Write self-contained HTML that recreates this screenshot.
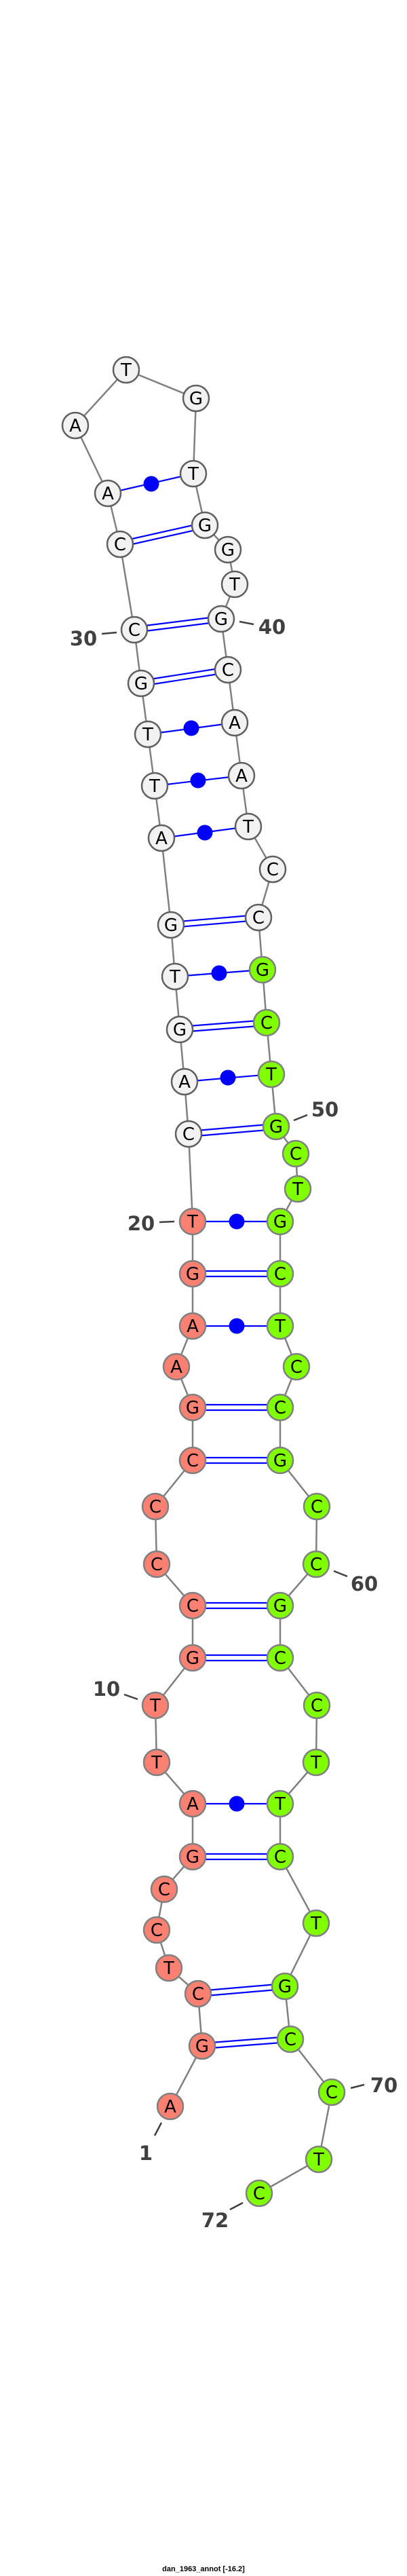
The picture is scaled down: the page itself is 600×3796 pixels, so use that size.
<!DOCTYPE html>
<html><head><meta charset="utf-8"><style>html,body{margin:0;padding:0;background:#fff}svg{display:block}</style></head><body>
<svg width="600" height="3796" viewBox="0 0 600 3796" xmlns="http://www.w3.org/2000/svg">
<polyline fill="none" stroke="#808080" stroke-width="2.5" points="251,3104 298,3015 292,2938 249,2900 231,2844 242,2784 284,2736 284,2658 231,2597 229,2513 284,2443 284,2366 231,2305 229,2220 284,2152 284,2074 260,2014 284,1954 284,1877 284,1800 278,1671 272,1594 265,1517 258,1439 252,1363 238,1235 228,1158 218,1082 208,1007 198,928 177,802 159,727 111,627 186,545 289,587 285,698 302,774 336,810 346,861 326,912 336,987 346,1065 356,1143 366,1218 402,1281 381,1352 387,1429 393,1507 400,1583 407,1660 436,1700 439,1752 413,1800 413,1877 413,1954 437,2014 413,2074 413,2152 467,2220 466,2305 413,2366 413,2443 467,2513 466,2597 413,2658 413,2736 466,2834 420,2927 428,3005 489,3083 470,3182 382,3232"/>
<g stroke="#0000ff" stroke-width="2.2">
<line x1="177" y1="798" x2="302" y2="770"/><line x1="177" y1="806" x2="302" y2="778"/>
<line x1="198" y1="924" x2="326" y2="908"/><line x1="198" y1="932" x2="326" y2="916"/>
<line x1="208" y1="1003" x2="336" y2="983"/><line x1="208" y1="1011" x2="336" y2="991"/>
<line x1="252" y1="1359" x2="381" y2="1348"/><line x1="252" y1="1367" x2="381" y2="1356"/>
<line x1="265" y1="1513" x2="393" y2="1503"/><line x1="265" y1="1521" x2="393" y2="1511"/>
<line x1="278" y1="1667" x2="407" y2="1656"/><line x1="278" y1="1675" x2="407" y2="1664"/>
<line x1="284" y1="1873" x2="413" y2="1873"/><line x1="284" y1="1881" x2="413" y2="1881"/>
<line x1="284" y1="2070" x2="413" y2="2070"/><line x1="284" y1="2078" x2="413" y2="2078"/>
<line x1="284" y1="2148" x2="413" y2="2148"/><line x1="284" y1="2156" x2="413" y2="2156"/>
<line x1="284" y1="2362" x2="413" y2="2362"/><line x1="284" y1="2370" x2="413" y2="2370"/>
<line x1="284" y1="2439" x2="413" y2="2439"/><line x1="284" y1="2447" x2="413" y2="2447"/>
<line x1="284" y1="2732" x2="413" y2="2732"/><line x1="284" y1="2740" x2="413" y2="2740"/>
<line x1="292" y1="2934" x2="420" y2="2923"/><line x1="292" y1="2942" x2="420" y2="2931"/>
<line x1="298" y1="3011" x2="428" y2="3001"/><line x1="298" y1="3019" x2="428" y2="3009"/>
<line x1="159" y1="727" x2="285" y2="698"/>
<line x1="218" y1="1082" x2="346" y2="1065"/>
<line x1="228" y1="1158" x2="356" y2="1143"/>
<line x1="238" y1="1235" x2="366" y2="1218"/>
<line x1="258" y1="1439" x2="387" y2="1429"/>
<line x1="272" y1="1594" x2="400" y2="1583"/>
<line x1="284" y1="1800" x2="413" y2="1800"/>
<line x1="284" y1="1954" x2="413" y2="1954"/>
<line x1="284" y1="2658" x2="413" y2="2658"/>
</g>
<g fill="#0000ff">
<circle cx="223" cy="713" r="11.5"/><circle cx="282" cy="1073" r="11.5"/><circle cx="292" cy="1150" r="11.5"/><circle cx="302" cy="1227" r="11.5"/><circle cx="323" cy="1434" r="11.5"/><circle cx="336" cy="1588" r="11.5"/><circle cx="349" cy="1800" r="11.5"/><circle cx="349" cy="1954" r="11.5"/><circle cx="349" cy="2658" r="11.5"/>
</g>
<g stroke-width="2.5">
<g fill="#fa8072" stroke="#808080">
<circle cx="251" cy="3104" r="19"/><circle cx="298" cy="3015" r="19"/><circle cx="292" cy="2938" r="19"/><circle cx="249" cy="2900" r="19"/><circle cx="231" cy="2844" r="19"/><circle cx="242" cy="2784" r="19"/><circle cx="284" cy="2736" r="19"/><circle cx="284" cy="2658" r="19"/><circle cx="231" cy="2597" r="19"/><circle cx="229" cy="2513" r="19"/><circle cx="284" cy="2443" r="19"/><circle cx="284" cy="2366" r="19"/><circle cx="231" cy="2305" r="19"/><circle cx="229" cy="2220" r="19"/><circle cx="284" cy="2152" r="19"/><circle cx="284" cy="2074" r="19"/><circle cx="260" cy="2014" r="19"/><circle cx="284" cy="1954" r="19"/><circle cx="284" cy="1877" r="19"/><circle cx="284" cy="1800" r="19"/>
</g>
<g fill="#f2f2f2" stroke="#606060">
<circle cx="278" cy="1671" r="19"/><circle cx="272" cy="1594" r="19"/><circle cx="265" cy="1517" r="19"/><circle cx="258" cy="1439" r="19"/><circle cx="252" cy="1363" r="19"/><circle cx="238" cy="1235" r="19"/><circle cx="228" cy="1158" r="19"/><circle cx="218" cy="1082" r="19"/><circle cx="208" cy="1007" r="19"/><circle cx="198" cy="928" r="19"/><circle cx="177" cy="802" r="19"/><circle cx="159" cy="727" r="19"/><circle cx="111" cy="627" r="19"/><circle cx="186" cy="545" r="19"/><circle cx="289" cy="587" r="19"/><circle cx="285" cy="698" r="19"/><circle cx="302" cy="774" r="19"/><circle cx="336" cy="810" r="19"/><circle cx="346" cy="861" r="19"/><circle cx="326" cy="912" r="19"/><circle cx="336" cy="987" r="19"/><circle cx="346" cy="1065" r="19"/><circle cx="356" cy="1143" r="19"/><circle cx="366" cy="1218" r="19"/><circle cx="402" cy="1281" r="19"/><circle cx="381" cy="1352" r="19"/>
</g>
<g fill="#7fff00" stroke="#808080">
<circle cx="387" cy="1429" r="19"/><circle cx="393" cy="1507" r="19"/><circle cx="400" cy="1583" r="19"/><circle cx="407" cy="1660" r="19"/><circle cx="436" cy="1700" r="19"/><circle cx="439" cy="1752" r="19"/><circle cx="413" cy="1800" r="19"/><circle cx="413" cy="1877" r="19"/><circle cx="413" cy="1954" r="19"/><circle cx="437" cy="2014" r="19"/><circle cx="413" cy="2074" r="19"/><circle cx="413" cy="2152" r="19"/><circle cx="467" cy="2220" r="19"/><circle cx="466" cy="2305" r="19"/><circle cx="413" cy="2366" r="19"/><circle cx="413" cy="2443" r="19"/><circle cx="467" cy="2513" r="19"/><circle cx="466" cy="2597" r="19"/><circle cx="413" cy="2658" r="19"/><circle cx="413" cy="2736" r="19"/><circle cx="466" cy="2834" r="19"/><circle cx="420" cy="2927" r="19"/><circle cx="428" cy="3005" r="19"/><circle cx="489" cy="3083" r="19"/><circle cx="470" cy="3182" r="19"/><circle cx="382" cy="3232" r="19"/>
</g>
</g>
<g font-family="DejaVu Sans, sans-serif" font-size="26" fill="#000" text-anchor="middle">
<text x="251" y="3113">A</text><text x="298" y="3024">G</text><text x="292" y="2947">C</text><text x="249" y="2909">T</text><text x="231" y="2853">C</text><text x="242" y="2793">C</text><text x="284" y="2745">G</text><text x="284" y="2667">A</text><text x="231" y="2606">T</text><text x="229" y="2522">T</text><text x="284" y="2452">G</text><text x="284" y="2375">C</text><text x="231" y="2314">C</text><text x="229" y="2229">C</text><text x="284" y="2161">C</text><text x="284" y="2083">G</text><text x="260" y="2023">A</text><text x="284" y="1963">A</text><text x="284" y="1886">G</text><text x="284" y="1809">T</text>
<text x="278" y="1680">C</text><text x="272" y="1603">A</text><text x="265" y="1526">G</text><text x="258" y="1448">T</text><text x="252" y="1372">G</text><text x="238" y="1244">A</text><text x="228" y="1167">T</text><text x="218" y="1091">T</text><text x="208" y="1016">G</text><text x="198" y="937">C</text><text x="177" y="811">C</text><text x="159" y="736">A</text><text x="111" y="636">A</text><text x="186" y="554">T</text><text x="289" y="596">G</text><text x="285" y="707">T</text><text x="302" y="783">G</text><text x="336" y="819">G</text><text x="346" y="870">T</text><text x="326" y="921">G</text><text x="336" y="996">C</text><text x="346" y="1074">A</text><text x="356" y="1152">A</text><text x="366" y="1227">T</text><text x="402" y="1290">C</text><text x="381" y="1361">C</text>
<text x="387" y="1438">G</text><text x="393" y="1516">C</text><text x="400" y="1592">T</text><text x="407" y="1669">G</text><text x="436" y="1709">C</text><text x="439" y="1761">T</text><text x="413" y="1809">G</text><text x="413" y="1886">C</text><text x="413" y="1963">T</text><text x="437" y="2023">C</text><text x="413" y="2083">C</text><text x="413" y="2161">G</text><text x="467" y="2229">C</text><text x="466" y="2314">C</text><text x="413" y="2375">G</text><text x="413" y="2452">C</text><text x="467" y="2522">C</text><text x="466" y="2606">T</text><text x="413" y="2667">T</text><text x="413" y="2745">C</text><text x="466" y="2843">T</text><text x="420" y="2936">G</text><text x="428" y="3014">C</text><text x="489" y="3092">C</text><text x="470" y="3191">T</text><text x="382" y="3241">C</text>
</g>
<g stroke="#404040" stroke-width="2.5">
<line x1="150" y1="934" x2="172" y2="932"/>
<line x1="353" y1="916" x2="374" y2="920"/>
<line x1="433" y1="1651" x2="453" y2="1643"/>
<line x1="235" y1="1801" x2="257" y2="1800"/>
<line x1="492" y1="2315" x2="512" y2="2323"/>
<line x1="183" y1="2497" x2="203" y2="2504"/>
<line x1="517" y1="3077" x2="537" y2="3072"/>
<line x1="228" y1="3147" x2="238" y2="3128"/>
<line x1="339" y1="3256" x2="358" y2="3246"/>
</g>
<g font-family="DejaVu Sans, sans-serif" font-weight="bold" font-size="29" fill="#404040" text-anchor="middle">
<text x="123" y="951">30</text>
<text x="401" y="934">40</text>
<text x="479" y="1645">50</text>
<text x="208" y="1813">20</text>
<text x="537" y="2344">60</text>
<text x="157" y="2499">10</text>
<text x="566" y="3083">70</text>
<text x="215" y="3183">1</text>
<text x="317" y="3282">72</text>
</g>
<text x="300" y="3789" font-family="Liberation Sans, sans-serif" font-weight="bold" font-size="11" fill="#000" text-anchor="middle">dan_1963_annot [-16.2]</text>
</svg>
</body></html>
